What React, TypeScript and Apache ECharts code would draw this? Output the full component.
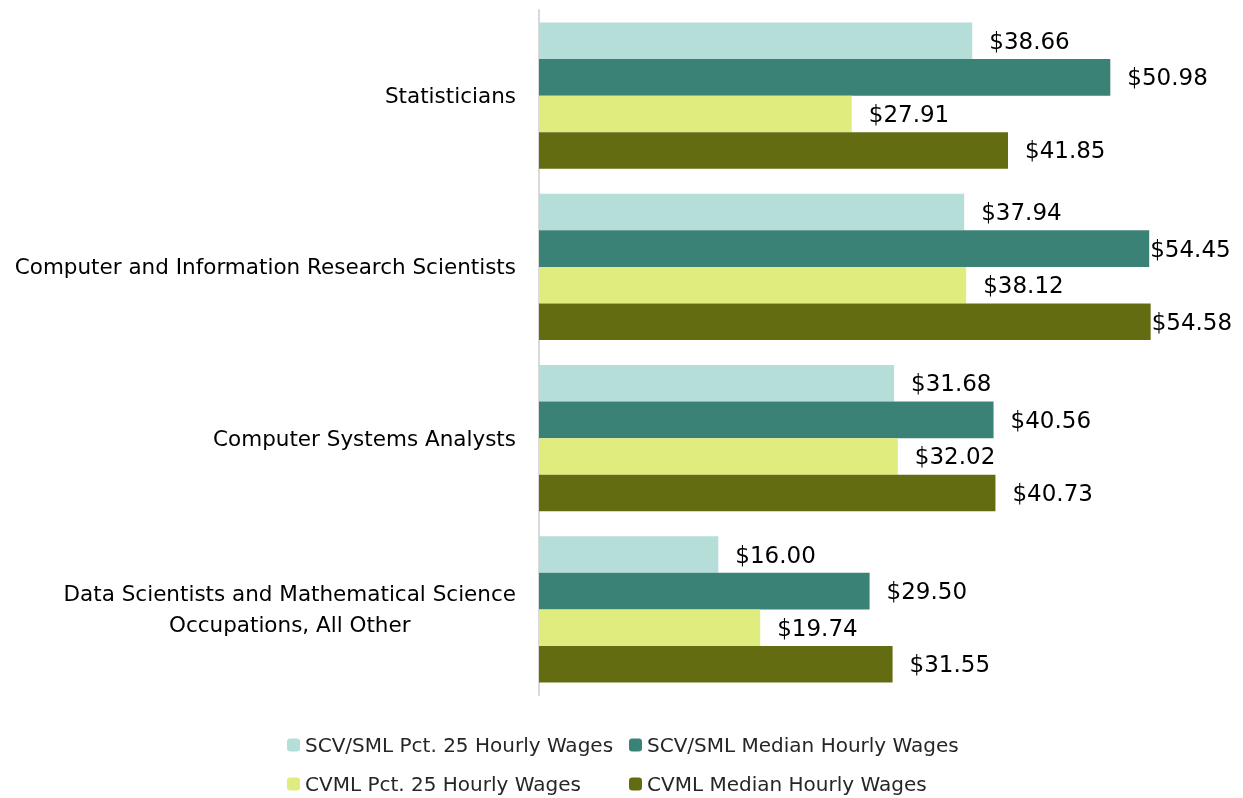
import React, { useEffect, useRef } from "react";
import * as echarts from "echarts";

const categories = [
  "Statisticians",
  "Computer and Information Research Scientists",
  "Computer Systems Analysts",
  "Data Scientists and Mathematical Science\nOccupations, All Other",
];
const seriesNames = [
  "SCV/SML Pct. 25 Hourly Wages",
  "SCV/SML Median Hourly Wages",
  "CVML Pct. 25 Hourly Wages",
  "CVML Median Hourly Wages",
];
const scvPct25 = [38.66, 37.94, 31.68, 16.0];
const scvMedian = [50.98, 54.45, 40.56, 29.5];
const cvmlPct25 = [27.91, 38.12, 32.02, 19.74];
const cvmlMedian = [41.85, 54.58, 40.73, 31.55];
const colors = ["#b5ded8", "#3a8276", "#e1ec7e", "#646c12"];

const FONT = "DejaVu Sans";

function measure(text: string, size: number): number {
  const c = document.createElement("canvas").getContext("2d");
  if (!c) return text.length * size * 0.55;
  c.font = `${size}px "${FONT}"`;
  return c.measureText(text).width;
}

export default function App() {
  const ref = useRef<HTMLDivElement>(null);
  useEffect(() => {
    if (!ref.current) return;
    const chart = echarts.init(ref.current, undefined, { renderer: "svg" });
    const catSize = 21.5;
    const valSize = 23;
    const xMax = 60;
    const plotW = 1243 - 539 - 31.6;
    const dataSets = [scvPct25, scvMedian, cvmlPct25, cvmlMedian];
    const series = dataSets.map((d, i) => ({
      name: seriesNames[i],
      type: "bar",
      data: d.map((v) => {
        const txt = "$" + v.toFixed(2);
        const end = 539 + (v / xMax) * plotW + 17 + measure(txt, valSize);
        return end > 1240
          ? { value: v, label: { distance: 1 } }
          : { value: v };
      }),
      barGap: "0%",
      barCategoryGap: "14.6%",
      itemStyle: { color: colors[i] },
      label: {
        show: true,
        position: "right",
        distance: 17,
        color: "#000",
        fontFamily: FONT,
        fontSize: valSize,
        formatter: (p: any) => "$" + Number(p.value).toFixed(2),
      },
    }));
    const legendPos = [
      { left: 282, top: 730 },
      { left: 624, top: 730 },
      { left: 282, top: 769 },
      { left: 624, top: 769 },
    ];
    const legends = seriesNames.map((n, i) => ({
      data: [n],
      left: legendPos[i].left,
      top: legendPos[i].top,
      itemWidth: 13,
      itemHeight: 13,
      itemGap: 0,
      textStyle: { fontSize: 20, color: "#262626", fontFamily: FONT },
    }));
    chart.setOption({
      animation: false,
      textStyle: { fontFamily: FONT },
      grid: { left: 539, top: 10, bottom: 103, right: 31.6 },
      xAxis: {
        type: "value",
        min: 0,
        max: xMax,
        show: false,
      },
      yAxis: {
        type: "category",
        inverse: true,
        data: categories,
        axisLine: { show: true, lineStyle: { color: "#d9d9d9", width: 2 } },
        axisTick: { show: false },
        axisLabel: {
          margin: 23,
          color: "#000",
          fontSize: catSize,
          fontFamily: FONT,
          lineHeight: 31,
          formatter: (v: string) => {
            if (v.indexOf("\n") < 0) return v;
            return v
              .split("\n")
              .map((l) => `{c|${l}}`)
              .join("\n");
          },
          rich: {
            c: {
              fontSize: catSize,
              fontFamily: FONT,
              color: "#000",
              lineHeight: 31,
              width: measure("Data Scientists and Mathematical Science", catSize),
              align: "center",
            },
          },
        },
      },
      legend: legends,
      series,
    });
    return () => chart.dispose();
  }, []);
  return (
    <div
      ref={ref}
      style={{ position: "fixed", left: 0, top: 0, width: 1243, height: 798 }}
    />
  );
}
